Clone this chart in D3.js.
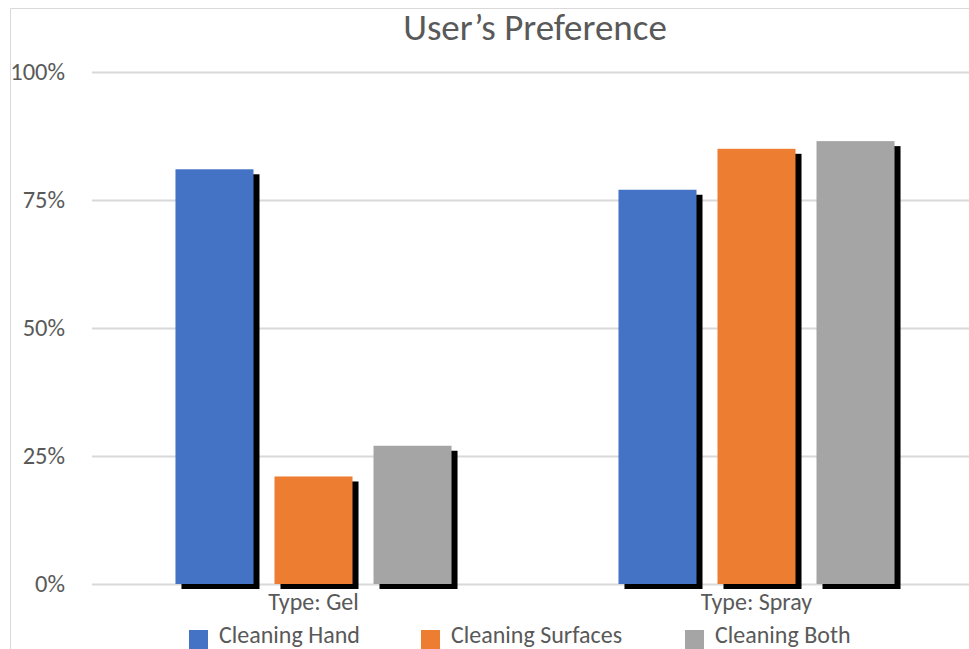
<!DOCTYPE html>
<html>
<head>
<meta charset="utf-8">
<script src="https://cdn.jsdelivr.net/npm/d3@7"></script>
<style>
  body { margin: 0; background: #fff; }
  text { font-family: Carlito, Calibri, Lato, sans-serif; fill: #595959; }
</style>
</head>
<body>
<div id="chart"></div>
<script>
// data
const categories = ["Type: Gel", "Type: Spray"];
const seriesNames = ["Cleaning Hand", "Cleaning Surfaces", "Cleaning Both"];
const seriesColors = ["#4472c4", "#ed7d31", "#a5a5a5"];
const cleaningHand = [0.81, 0.77];
const cleaningSurfaces = [0.21, 0.85];
const cleaningBoth = [0.27, 0.865];
const yTicks = [0, 0.25, 0.5, 0.75, 1];
const title = "User\u2019s Preference";

var width = 969, height = 649;
var fontFam = "Carlito, Calibri, Lato, sans-serif";

var seriesValues = [cleaningHand, cleaningSurfaces, cleaningBoth];
var rows = categories.map(function(c, i) {
  return { cat: c, vals: seriesNames.map(function(s, j) { return { name: s, value: seriesValues[j][i], color: seriesColors[j] }; }) };
});

var svg = d3.select("#chart").append("svg")
  .attr("width", width)
  .attr("height", height);

// chart frame
svg.append("path")
  .attr("d", "M10.5," + height + "V8.5H" + width)
  .attr("fill", "none")
  .attr("stroke", "#d9d9d9")
  .attr("stroke-width", 1);

var x0 = d3.scaleBand()
  .domain(categories)
  .range([92, 978])
  .padding(0);

var x1 = d3.scaleBand()
  .domain(seriesNames)
  .range([0, x0.bandwidth()])
  .paddingInner(0.212)
  .paddingOuter(0.843);

var y = d3.scaleLinear()
  .domain([0, 1])
  .range([584, 72]);

// gridlines + y labels
var yAxis = svg.append("g")
  .attr("transform", "translate(92,0)")
  .call(d3.axisLeft(y)
    .tickValues(yTicks)
    .tickFormat(d3.format(".0%"))
    .tickSize(-(978 - 92))
    .tickPadding(27));
yAxis.select(".domain").remove();
yAxis.selectAll(".tick line")
  .attr("stroke", "#d9d9d9")
  .attr("stroke-width", 2);
yAxis.selectAll(".tick text")
  .attr("fill", "#595959")
  .style("font-size", "24.5px")
  .style("font-family", fontFam);

// bars
var groups = svg.selectAll(".grp")
  .data(rows)
  .enter().append("g")
  .attr("class", "grp")
  .attr("transform", function(d) { return "translate(" + x0(d.cat) + ",0)"; });

// shadows
groups.selectAll(".shadow")
  .data(function(d) { return d.vals; })
  .enter().append("rect")
  .attr("class", "shadow")
  .attr("x", function(d) { return x1(d.name) + 6; })
  .attr("y", function(d) { return y(d.value) + 5; })
  .attr("width", x1.bandwidth())
  .attr("height", function(d) { return y(0) - y(d.value); })
  .attr("fill", "#000");

groups.selectAll(".bar")
  .data(function(d) { return d.vals; })
  .enter().append("rect")
  .attr("class", "bar")
  .attr("x", function(d) { return x1(d.name); })
  .attr("y", function(d) { return y(d.value); })
  .attr("width", x1.bandwidth())
  .attr("height", function(d) { return y(0) - y(d.value); })
  .attr("fill", function(d) { return d.color; });

// category labels
var xAxis = svg.append("g")
  .attr("transform", "translate(0,584)")
  .call(d3.axisBottom(x0).tickSize(0).tickPadding(9));
xAxis.select(".domain").remove();
xAxis.selectAll(".tick text")
  .attr("fill", "#595959")
  .style("font-size", "24px")
  .style("font-family", fontFam);

// title
svg.append("text")
  .attr("x", 535)
  .attr("y", 40)
  .attr("text-anchor", "middle")
  .style("font-size", "37px")
  .text(title);

// legend
var legendX = [189, 421, 685];
var legend = svg.selectAll(".legend")
  .data(seriesNames)
  .enter().append("g")
  .attr("class", "legend")
  .attr("transform", function(d, i) { return "translate(" + legendX[i] + ",630)"; });
legend.append("rect")
  .attr("width", 19)
  .attr("height", 19)
  .attr("fill", function(d, i) { return seriesColors[i]; });
legend.append("text")
  .attr("x", 30)
  .attr("y", 13)
  .style("font-size", "24px")
  .text(function(d) { return d; });
</script>
</body>
</html>
